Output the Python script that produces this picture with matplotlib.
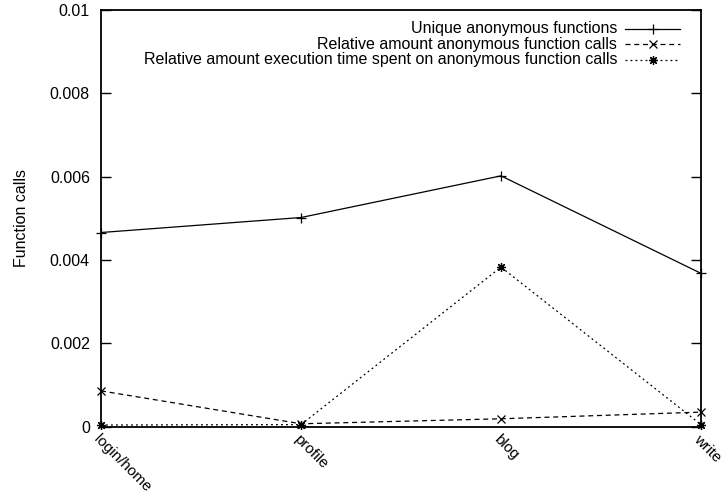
import matplotlib
matplotlib.use("Agg")
import matplotlib.pyplot as plt
from matplotlib.lines import Line2D

plt.rcParams['font.family'] = ['Liberation Sans', 'DejaVu Sans']

categories = ["login/home", "profile", "blog", "write"]
unique_funcs = [0.00466, 0.00502, 0.00602, 0.00368]
rel_calls = [0.00086, 0.00007, 0.00019, 0.00035]
rel_time = [0.00004, 0.00005, 0.00383, 0.00005]
yticks = [0, 0.002, 0.004, 0.006, 0.008, 0.01]
ytick_labels = ["0", "0.002", "0.004", "0.006", "0.008", "0.01"]
labels = ["Unique anonymous functions",
          "Relative amount anonymous function calls",
          "Relative amount execution time spent on anonymous function calls"]

fig = plt.figure(figsize=(7.27, 5.0), dpi=100)
ax = fig.add_axes([101/727, 1-426.7/500, 600/727, 416.7/500])

x = list(range(len(categories)))
styles = [
    dict(linestyle='-', marker='+', markersize=7),
    dict(linestyle=(0, (4, 3)), marker='x', markersize=5.5),
    dict(linestyle=(0, (1.5, 2.5)), marker=(8, 2, 0), markersize=6.5),
]
series = [unique_funcs, rel_calls, rel_time]
for vals, st in zip(series, styles):
    ax.plot(x, vals, color='black', linewidth=0.9, markeredgewidth=0.9,
            clip_on=False, **st)

ax.set_xlim(0, len(categories) - 1)
ax.set_ylim(0, 0.01)
ax.set_yticks(yticks)
ax.set_yticklabels(ytick_labels, fontsize=11.5)
ax.set_xticks(x)
ax.set_xticklabels(categories, fontsize=11, rotation=-45, ha='left',
                   va='top', rotation_mode='anchor')
ax.tick_params(axis='x', length=0, pad=4)
ax.tick_params(axis='y', direction='in', length=7, width=1, right=True, pad=8)
ax.set_ylabel("Function calls", fontsize=11.5, labelpad=15)
for s in ax.spines.values():
    s.set_linewidth(1.3)

# legend (gnuplot style: right-aligned text, sample to the right)
row_y = [29, 44, 60]
for lab, st, yy in zip(labels, styles, row_y):
    ya = 1 - (yy - 10) / 416.7
    ax.text((617 - 101) / 600, ya, lab, transform=ax.transAxes,
            ha='right', va='center', fontsize=11.5)
    ax.add_line(Line2D([(625 - 101) / 600, (680 - 101) / 600], [ya, ya],
                       transform=ax.transAxes, color='black', linewidth=0.9,
                       linestyle=st['linestyle'], clip_on=False))
    ax.add_line(Line2D([(652.5 - 101) / 600], [ya], transform=ax.transAxes,
                       color='black', marker=st['marker'],
                       markersize=st['markersize'], markeredgewidth=0.9,
                       linestyle='none', clip_on=False))

fig.savefig("out.png", dpi=100)
